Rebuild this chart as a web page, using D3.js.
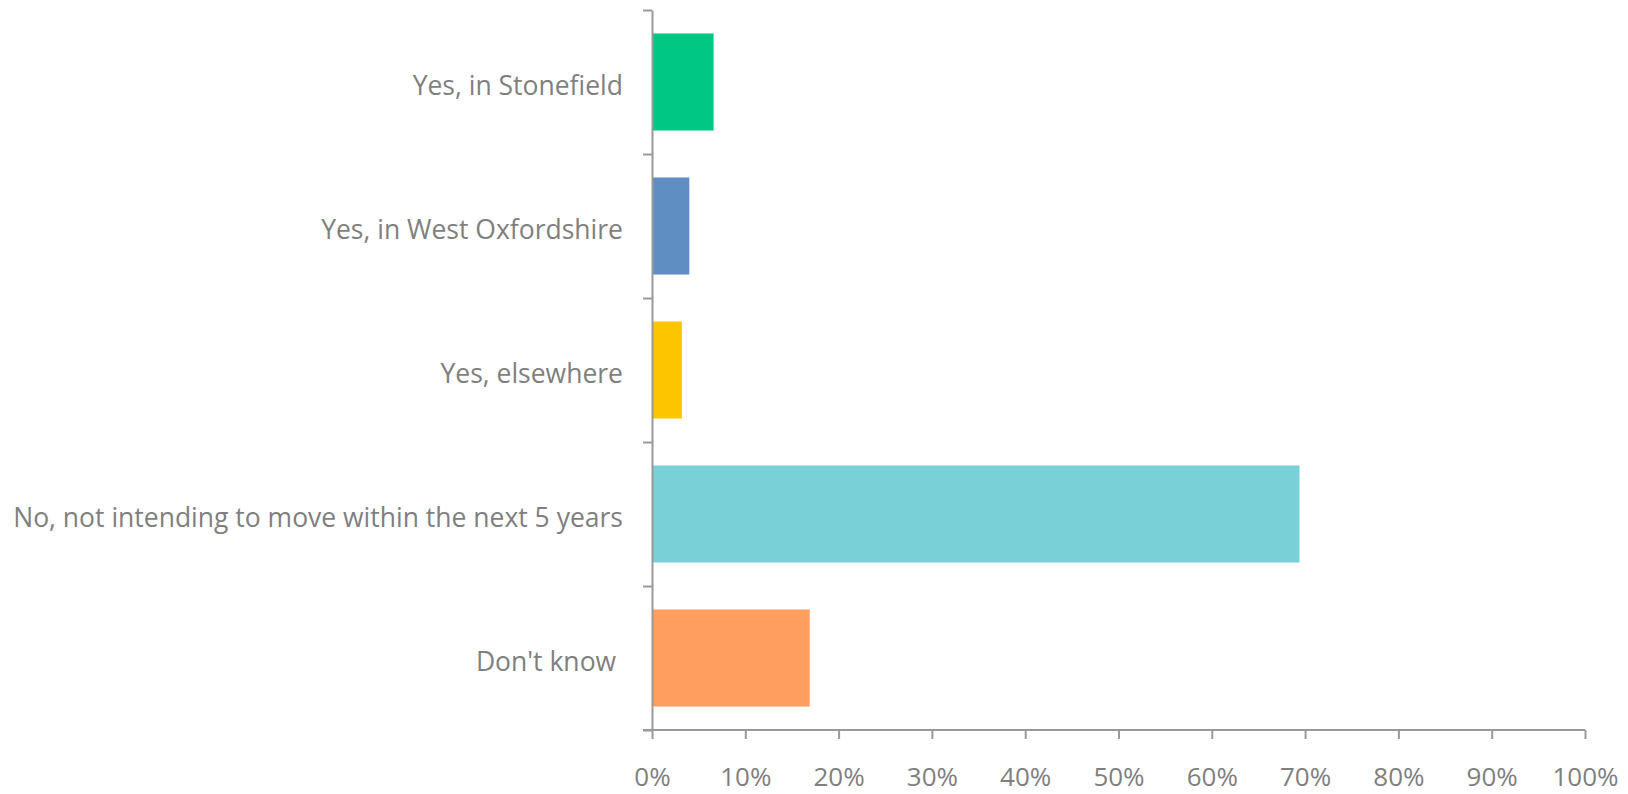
<!DOCTYPE html>
<html>
<head>
<meta charset="utf-8">
<script src="https://cdn.jsdelivr.net/npm/d3@7"></script>
<style>
  html, body { margin: 0; padding: 0; background: #fff; }
  svg { display: block; }
  text { font-family: "Open Sans", sans-serif; fill: #7f7f7f; }
</style>
</head>
<body>
<svg id="chart" width="1628" height="794"></svg>
<script>
const categories = [
  "Yes, in Stonefield",
  "Yes, in West Oxfordshire",
  "Yes, elsewhere",
  "No, not intending to move within the next 5 years",
  "Don't know "
];
const values = [6.6, 4.0, 3.2, 69.4, 16.9];
const colors = ["#00C784", "#5F8FC2", "#FCC500", "#7AD0D7", "#FF9E5E"];
const xTicks = [0, 10, 20, 30, 40, 50, 60, 70, 80, 90, 100];

const W = 1628, H = 794;
const margin = { top: 10, right: 43, bottom: 64, left: 652 };
const innerW = W - margin.left - margin.right;
const innerH = H - margin.top - margin.bottom;

const svg = d3.select("#chart");
const g = svg.append("g").attr("transform", `translate(${margin.left},${margin.top})`);

const x = d3.scaleLinear().domain([0, 100]).range([0, innerW]);
const y = d3.scaleBand().domain(categories).range([0, innerH]).paddingInner(0.326).paddingOuter(0.163);
const yEdges = d3.scaleLinear().domain([0, categories.length]).range([0, innerH]);

// bars
g.selectAll("rect.bar").data(categories).enter().append("rect")
  .attr("class", "bar")
  .attr("x", x(0))
  .attr("y", d => y(d))
  .attr("width", (d, i) => x(values[i]) - x(0))
  .attr("height", y.bandwidth())
  .attr("fill", (d, i) => colors[i]);

// y axis (ticks at band boundaries)
const yAxis = g.append("g")
  .call(d3.axisLeft(yEdges).tickValues(d3.range(0, categories.length + 1)).tickSize(9).tickSizeOuter(0).tickFormat(""));
yAxis.selectAll("path, line").attr("stroke", "#999").attr("stroke-width", 2);

// category labels
g.selectAll("text.cat").data(categories).enter().append("text")
  .attr("class", "cat")
  .attr("x", -29)
  .attr("y", d => y(d) + y.bandwidth() / 2)
  .attr("dy", 13)
  .attr("text-anchor", "end")
  .style("font-size", "26.5px")
  .style("white-space", "pre")
  .text(d => d);

// x axis
const xAxis = g.append("g").attr("transform", `translate(0,${innerH})`)
  .call(d3.axisBottom(x).tickValues(xTicks).tickSize(9).tickSizeOuter(0).tickPadding(0).tickFormat(d => d + "%"));
xAxis.selectAll("path, line").attr("stroke", "#999").attr("stroke-width", 2);
xAxis.select(".domain").attr("d", `M-9,0H${innerW}`);
xAxis.selectAll("text")
  .attr("y", 56).attr("dy", 0)
  .style("font-size", "26px")
  .style("fill", "#7f7f7f")
  .style("font-family", "'Open Sans', sans-serif");
</script>
</body>
</html>
